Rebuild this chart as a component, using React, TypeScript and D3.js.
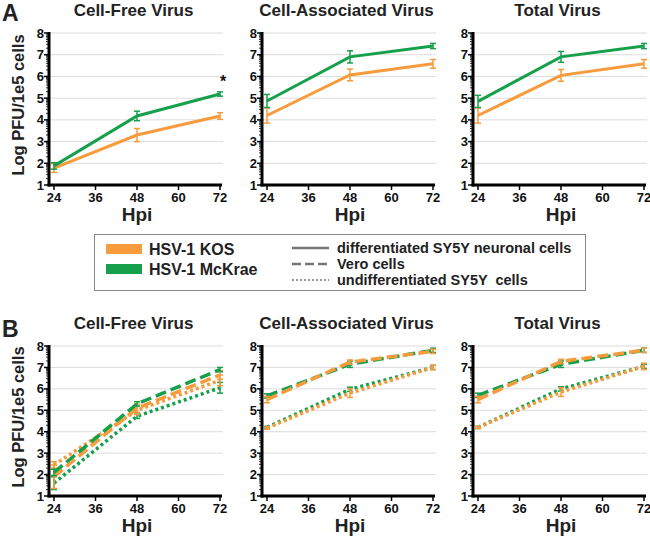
import React from "react";
import * as d3 from "d3";

const hpi = [24, 48, 72];
const xTickValues = [24, 36, 48, 60, 72];
const yTickValues = [1, 2, 3, 4, 5, 6, 7, 8];
const panelTitles = ["Cell-Free Virus", "Cell-Associated Virus", "Total Virus"];

// Panel A: differentiated SY5Y neuronal cells (solid)
const aFreeKOS = [1.78, 3.3, 4.18];
const aFreeKOSErr = [0.2, 0.3, 0.15];
const aFreeMcK = [1.88, 4.18, 5.19];
const aFreeMcKErr = [0.15, 0.22, 0.1];
const aAssocKOS = [4.2, 6.07, 6.58];
const aAssocKOSErr = [0.35, 0.27, 0.2];
const aAssocMcK = [4.87, 6.9, 7.4];
const aAssocMcKErr = [0.3, 0.28, 0.12];
const aTotalKOS = [4.2, 6.05, 6.58];
const aTotalKOSErr = [0.35, 0.27, 0.2];
const aTotalMcK = [4.85, 6.9, 7.4];
const aTotalMcKErr = [0.28, 0.25, 0.12];

// Panel B: Vero (dashed) and undifferentiated SY5Y (dotted)
const bFreeVeroKOS = [1.9, 5.1, 6.65];
const bFreeVeroKOSErr = [0.55, 0.2, 0.2];
const bFreeVeroMcK = [2.1, 5.3, 6.9];
const bFreeVeroMcKErr = [0.15, 0.1, 0.1];
const bFreeUndKOS = [2.45, 5.0, 6.4];
const bFreeUndKOSErr = [0.15, 0.2, 0.25];
const bFreeUndMcK = [1.6, 4.72, 6.05];
const bFreeUndMcKErr = [0.3, 0.1, 0.25];

const bAssocVeroKOS = [5.5, 7.25, 7.75];
const bAssocVeroKOSErr = [0.15, 0.1, 0.1];
const bAssocVeroMcK = [5.67, 7.15, 7.8];
const bAssocVeroMcKErr = [0.1, 0.15, 0.1];
const bAssocUndKOS = [4.17, 5.8, 7.0];
const bAssocUndKOSErr = [0.05, 0.2, 0.1];
const bAssocUndMcK = [4.2, 5.98, 7.0];
const bAssocUndMcKErr = [0.05, 0.1, 0.1];

const bTotalVeroKOS = [5.5, 7.28, 7.8];
const bTotalVeroKOSErr = [0.15, 0.1, 0.1];
const bTotalVeroMcK = [5.7, 7.15, 7.8];
const bTotalVeroMcKErr = [0.1, 0.15, 0.1];
const bTotalUndKOS = [4.2, 5.85, 7.05];
const bTotalUndKOSErr = [0.05, 0.2, 0.15];
const bTotalUndMcK = [4.2, 6.0, 7.05];
const bTotalUndMcKErr = [0.05, 0.1, 0.1];

const strainLabels = ["HSV-1 KOS", "HSV-1 McKrae"];
const cellLabels = ["differentiated SY5Y neuronal cells", "Vero cells", "undifferentiated SY5Y  cells"];

const ORANGE = "#F79B3C";
const GREEN = "#16A04B";
const FONT = "'Liberation Sans', Arial, Helvetica, sans-serif";

type Series = { values: number[]; err: number[]; color: string; style: "solid" | "dashed" | "dotted" };

const dashFor = (s: string) => (s === "dashed" ? "11,5" : s === "dotted" ? "3,3" : undefined);

function Subplot({ x0, yTop, yBot, title, series, showYLabel, star }: {
  x0: number; yTop: number; yBot: number; title: string; series: Series[]; showYLabel: boolean; star?: boolean;
}) {
  const width = 166;
  const x = d3.scaleLinear().domain([24, 72]).range([x0, x0 + width]);
  const y = d3.scaleLinear().domain([1, 8]).range([yBot, yTop]);
  const axisX = x0 - 5;
  const line = d3.line<[number, number]>().x((d) => x(d[0])).y((d) => y(d[1]));
  const minor: number[] = [];
  for (let n = 1; n < 8; n++) for (let k = 2; k <= 9; k++) minor.push(n + Math.log10(k));
  const cx = (axisX + x0 + width + 2) / 2;
  return (
    <g>
      <text x={cx - 2} y={yTop - 17} textAnchor="middle" fontFamily={FONT} fontWeight="bold" fontSize={17} fill="#222">{title}</text>
      {yTickValues.slice(1).map((v) => (
        <line key={"g" + v} x1={axisX} x2={x0 + width + 3} y1={y(v)} y2={y(v)} stroke="#dcdcdc" strokeWidth={1} />
      ))}
      {series.map((s, i) => (
        <g key={i}>
          <path d={line(hpi.map((h, j) => [h, s.values[j]] as [number, number])) || ""} fill="none" stroke={s.color}
            strokeWidth={s.style === "solid" ? 3 : 3.5} strokeDasharray={dashFor(s.style)} />
          {hpi.map((h, j) => {
            const px = x(h);
            const t = y(s.values[j] + s.err[j]);
            const b = y(s.values[j] - s.err[j]);
            return (
              <g key={j} stroke={s.color} strokeWidth={1.5}>
                <line x1={px} x2={px} y1={t} y2={b} />
                <line x1={px - 3} x2={px + 3} y1={t} y2={t} />
                <line x1={px - 3} x2={px + 3} y1={b} y2={b} />
              </g>
            );
          })}
        </g>
      ))}
      {/* axes */}
      <line x1={axisX} x2={axisX} y1={yTop - 1} y2={yBot + 1.5} stroke="#000" strokeWidth={3} />
      <line x1={axisX - 1.5} x2={x0 + width + 2} y1={yBot} y2={yBot} stroke="#000" strokeWidth={3} />
      {yTickValues.map((v) => (
        <g key={"y" + v}>
          <line x1={axisX - 5} x2={axisX} y1={y(v)} y2={y(v)} stroke="#000" strokeWidth={1.5} />
          <text x={axisX - 5} y={y(v)} dy="0.35em" textAnchor="end" fontFamily={FONT} fontWeight="bold" fontSize={13} fill="#111">{v}</text>
        </g>
      ))}
      {minor.map((v, i) => (
        <line key={"m" + i} x1={axisX - 3} x2={axisX} y1={y(v)} y2={y(v)} stroke="#000" strokeWidth={0.8} />
      ))}
      {xTickValues.map((v) => (
        <g key={"x" + v}>
          <line x1={x(v)} x2={x(v)} y1={yBot} y2={yBot + 5} stroke="#000" strokeWidth={1.5} />
          <text x={x(v)} y={yBot + 12} dy="0.35em" textAnchor="middle" fontFamily={FONT} fontWeight="bold" fontSize={13} fill="#111">{v}</text>
        </g>
      ))}
      <text x={(x0 + x0 + width) / 2} y={yBot + 29} dy="0.35em" textAnchor="middle" fontFamily={FONT} fontWeight="bold" fontSize={19} fill="#222">Hpi</text>
      {showYLabel && (
        <text transform={`translate(18, ${(yTop + yBot) / 2 - 4}) rotate(-90)`} textAnchor="middle" dy="0.35em"
          fontFamily={FONT} fontWeight="bold" fontSize={16.5} fill="#222">Log PFU/1e5 cells</text>
      )}
      {star && (
        <text x={x(72) + 3} y={y(5.75)} dy="0.35em" textAnchor="middle" fontFamily={FONT} fontWeight="bold" fontSize={16} fill="#111">*</text>
      )}
    </g>
  );
}

export default function App() {
  const xs = [54, 267, 478];
  const aSeries: Series[][] = [
    [
      { values: aFreeKOS, err: aFreeKOSErr, color: ORANGE, style: "solid" },
      { values: aFreeMcK, err: aFreeMcKErr, color: GREEN, style: "solid" },
    ],
    [
      { values: aAssocKOS, err: aAssocKOSErr, color: ORANGE, style: "solid" },
      { values: aAssocMcK, err: aAssocMcKErr, color: GREEN, style: "solid" },
    ],
    [
      { values: aTotalKOS, err: aTotalKOSErr, color: ORANGE, style: "solid" },
      { values: aTotalMcK, err: aTotalMcKErr, color: GREEN, style: "solid" },
    ],
  ];
  const bSeries: Series[][] = [
    [
      { values: bFreeUndMcK, err: bFreeUndMcKErr, color: GREEN, style: "dotted" },
      { values: bFreeUndKOS, err: bFreeUndKOSErr, color: ORANGE, style: "dotted" },
      { values: bFreeVeroKOS, err: bFreeVeroKOSErr, color: ORANGE, style: "dashed" },
      { values: bFreeVeroMcK, err: bFreeVeroMcKErr, color: GREEN, style: "dashed" },
    ],
    [
      { values: bAssocUndMcK, err: bAssocUndMcKErr, color: GREEN, style: "dotted" },
      { values: bAssocUndKOS, err: bAssocUndKOSErr, color: ORANGE, style: "dotted" },
      { values: bAssocVeroMcK, err: bAssocVeroMcKErr, color: GREEN, style: "dashed" },
      { values: bAssocVeroKOS, err: bAssocVeroKOSErr, color: ORANGE, style: "dashed" },
    ],
    [
      { values: bTotalUndMcK, err: bTotalUndMcKErr, color: GREEN, style: "dotted" },
      { values: bTotalUndKOS, err: bTotalUndKOSErr, color: ORANGE, style: "dotted" },
      { values: bTotalVeroMcK, err: bTotalVeroMcKErr, color: GREEN, style: "dashed" },
      { values: bTotalVeroKOS, err: bTotalVeroKOSErr, color: ORANGE, style: "dashed" },
    ],
  ];
  const styles: ("solid" | "dashed" | "dotted")[] = ["solid", "dashed", "dotted"];
  return (
    <svg width={650} height={536} style={{ position: "absolute", left: 0, top: 0, background: "#fff" }}>
      <rect x={0} y={0} width={650} height={536} fill="#fff" />
      <text x={2} y={21} fontFamily={FONT} fontWeight="bold" fontSize={23} fill="#222">A</text>
      <text x={2} y={337} fontFamily={FONT} fontWeight="bold" fontSize={23} fill="#222">B</text>
      {xs.map((x0, i) => (
        <Subplot key={"a" + i} x0={x0} yTop={33} yBot={185} title={panelTitles[i]} series={aSeries[i]} showYLabel={i === 0} star={i === 0} />
      ))}
      {xs.map((x0, i) => (
        <Subplot key={"b" + i} x0={x0} yTop={346} yBot={496} title={panelTitles[i]} series={bSeries[i]} showYLabel={i === 0} />
      ))}
      {/* legend */}
      <rect x={94.5} y={234.5} width={491} height={56} fill="#fff" stroke="#888" strokeWidth={1} />
      {strainLabels.map((s, i) => (
        <g key={s}>
          <rect x={106} y={244 + i * 20} width={36} height={10} fill={i === 0 ? ORANGE : GREEN} />
          <text x={149} y={249 + i * 20} dy="0.35em" fontFamily={FONT} fontWeight="bold" fontSize={16} fill="#222">{s}</text>
        </g>
      ))}
      {cellLabels.map((c, i) => (
        <g key={c}>
          <line x1={292} x2={329} y1={248 + i * 16} y2={248 + i * 16} stroke="#777" strokeWidth={styles[i] === "dotted" ? 1.5 : 2.5}
            strokeDasharray={styles[i] === "dashed" ? "9,4" : styles[i] === "dotted" ? "2,2" : undefined} />
          <text x={337} y={248 + i * 16} dy="0.35em" fontFamily={FONT} fontWeight="bold" fontSize={14.5} fill="#222" style={{ whiteSpace: "pre" }}>{c}</text>
        </g>
      ))}
    </svg>
  );
}
